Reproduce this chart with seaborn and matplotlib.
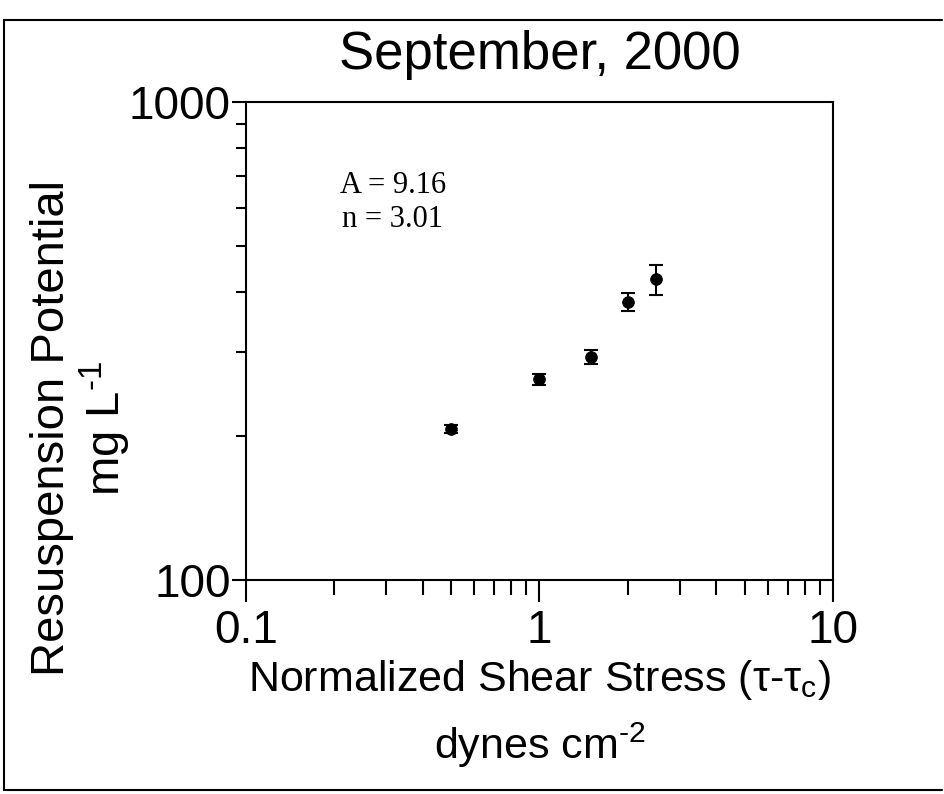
import numpy as np
import pandas as pd
import matplotlib
matplotlib.use("Agg")
import matplotlib.pyplot as plt
import seaborn as sns
from matplotlib.lines import Line2D
from matplotlib.ticker import NullFormatter

# Data
shear_stress = [0.5, 1.0, 1.5, 2.0, 2.5]
resuspension = [207, 263, 293, 382, 426]
resuspension_err = [4, 7, 10, 16, 31]

x_ticks = [0.1, 1, 10]
x_tick_labels = ["0.1", "1", "10"]
y_ticks = [100, 1000]
y_tick_labels = ["100", "1000"]

df = pd.DataFrame({"stress": shear_stress, "rp": resuspension, "err": resuspension_err})

sns.set_style("ticks")
plt.rcParams["font.family"] = ["Liberation Sans", "DejaVu Sans"]
plt.rcParams["text.color"] = "black"
plt.rcParams["xtick.color"] = "black"
plt.rcParams["ytick.color"] = "black"
plt.rcParams["mathtext.fontset"] = "custom"
plt.rcParams["mathtext.rm"] = "Liberation Sans"

fig = plt.figure(figsize=(9.44, 7.94), dpi=100)
ax = fig.add_axes([0.2606, 0.2695, 0.6218, 0.602])

ax.errorbar(df["stress"], df["rp"], yerr=df["err"], fmt="none",
            ecolor="black", elinewidth=1.5, capsize=5, capthick=1.5, zorder=2)
sns.scatterplot(data=df, x="stress", y="rp", ax=ax, color="black",
                s=70, edgecolor="black", zorder=3, legend=False)

ax.set_xscale("log")
ax.set_yscale("log")
ax.set_xlim(0.1, 10)
ax.set_ylim(100, 1000)
ax.set_xticks(x_ticks)
ax.set_xticklabels(x_tick_labels)
ax.set_yticks(y_ticks)
ax.set_yticklabels(y_tick_labels)
ax.xaxis.set_minor_formatter(NullFormatter())
ax.yaxis.set_minor_formatter(NullFormatter())

for side in ["left", "right", "top", "bottom"]:
    ax.spines[side].set_linewidth(1.5)
    ax.spines[side].set_color("black")

ax.tick_params(axis="x", which="major", length=16, width=1.5, labelsize=33, pad=5)
ax.tick_params(axis="x", which="minor", length=11, width=1.5)
ax.tick_params(axis="y", which="major", length=10, width=1.5, labelsize=33, pad=1)
ax.tick_params(axis="y", which="minor", length=7, width=1.5)

ax.set_xlabel("")
ax.set_ylabel("")
ax.set_title("September, 2000", fontsize=38, pad=24)

# axis labels, two lines each
ax.text(0.5, -0.21, r"Normalized Shear Stress (τ-τ$_{\mathrm{c}}$)", transform=ax.transAxes,
        ha="center", va="center", fontsize=31)
ax.text(0.5, -0.345, r"dynes cm$^{\text{-2}}$", transform=ax.transAxes,
        ha="center", va="center", fontsize=31)
ax.text(-0.28, 0.318, "Resuspension Potential\n" + r"mg L$^{\text{-1}}$",
        transform=ax.transAxes, ha="center", va="center", multialignment="center",
        rotation=90, fontsize=34, linespacing=1.1)

ax.text(0.25, 0.79, "A = 9.16\nn = 3.01", transform=ax.transAxes, ha="center",
        va="center", fontsize=22, family=["Liberation Serif", "DejaVu Serif"],
        linespacing=1.2)

# frame around the whole figure
for xs, ys in [([0.004, 0.004], [0.005, 0.975]), ([0.004, 0.998], [0.975, 0.975]),
               ([0.004, 0.998], [0.005, 0.005])]:
    fig.add_artist(Line2D(xs, ys, transform=fig.transFigure, color="black", lw=1.5))

fig.savefig("out.png", dpi=100, facecolor="white")
